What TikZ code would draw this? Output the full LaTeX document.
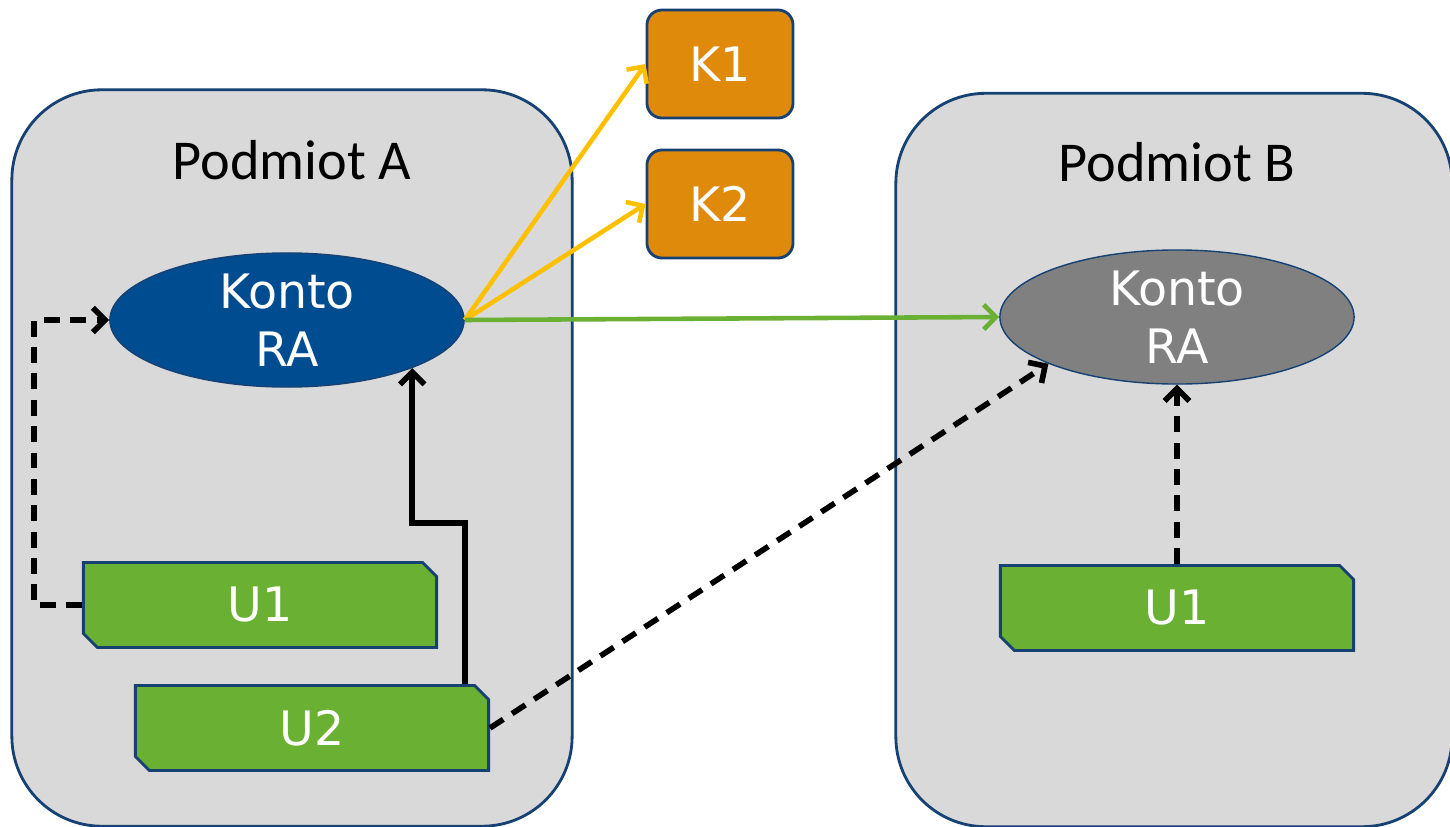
\documentclass[tikz,border=0pt]{standalone}
\usepackage{fontspec}
\setmainfont{DejaVu Sans}
\newfontfamily\podmiotfont{Carlito}
\usetikzlibrary{shapes.geometric,shapes.misc,arrows.meta}
\definecolor{podmiotback}{RGB}{217,217,217}
\definecolor{ramka}{RGB}{22,65,115}
\definecolor{kontoblue}{RGB}{0,76,145}
\definecolor{kontogray}{RGB}{128,128,128}
\definecolor{uzytkgreen}{RGB}{106,176,51}
\definecolor{kluczorange}{RGB}{224,138,12}
\definecolor{strzyellow}{RGB}{255,192,0}

\tikzset{
  podmiot/.style={draw=ramka,fill=podmiotback,rounded corners=0.9cm,line width=0.8pt},
  konto/.style={ellipse,draw=ramka,text=white,inner sep=0pt,minimum width=3.54cm,
    minimum height=1.34cm,align=center,font=\fontsize{13.5}{16.5}\selectfont},
  klucz/.style={draw=ramka,fill=kluczorange,text=white,rounded corners=0.15cm,line width=0.8pt,
    minimum width=1.46cm,minimum height=1.08cm,font=\fontsize{13.5}{16}\selectfont},
  uzytk/.style={chamfered rectangle,chamfered rectangle corners={north east,south west},
    chamfered rectangle xsep=0.07cm,chamfered rectangle ysep=0.07cm,draw=ramka,fill=uzytkgreen,
    text=white,line width=0.8pt,minimum width=3.53cm,minimum height=0.85cm,
    font=\fontsize{13.5}{16}\selectfont},
  strz/.style={-{Straight Barb[length=3.5pt,width=7pt]},line width=1.6pt},
  przer/.style={strz,dash pattern=on 4.5pt off 3pt}
}

\begin{document}
\begin{tikzpicture}[x=0.01cm,y=-0.01cm]
\useasboundingbox (0,0) rectangle (1450,827);
% podmioty
\node (poda) [podmiot,minimum width=5.6cm,minimum height=7.36cm] at (292,458) {};
\node (podb) [podmiot,minimum width=5.56cm,minimum height=7.33cm] at (1174,460) {};
\node (podalabel) [font=\podmiotfont\fontsize{16}{19}\selectfont] at (292,160) {Podmiot A};
\node (podblabel) [font=\podmiotfont\fontsize{16}{19}\selectfont] at (1177,162) {Podmiot B};
% konta
\node (kontoa) [konto,fill=kontoblue] at (287,320) {Konto\\RA};
\node (kontob) [konto,fill=kontogray] at (1177,317) {Konto\\RA};
\node (k1) [klucz] at (720,64) {K1};
\node (k2) [klucz] at (720,204) {K2};
% uzytkownicy
\node (u1a) [uzytk] at (260,605) {U1};
\node (u2) [uzytk] at (312,728) {U2};
\node (u1b) [uzytk] at (1177,608) {U1};

\draw[strz,draw=strzyellow,line width=1.3pt] (kontoa.east) -- (k1.west);
\draw[strz,draw=strzyellow,line width=1.3pt] (kontoa.east) -- (k2.west);
\draw[strz,draw=uzytkgreen,line width=1.3pt] (kontoa.east) -- (kontob.west);
\draw[przer] (u1a.west) -- ++(-48,0) |- (kontoa.west);
\draw[strz] ([xshift=1.53cm]u2.north) -- ++(0,-161) -| (kontoa.-21);
\draw[przer] (u2.east) -- (kontob.200);
\draw[przer] (u1b.north) -- (kontob.south);
\end{tikzpicture}
\end{document}
